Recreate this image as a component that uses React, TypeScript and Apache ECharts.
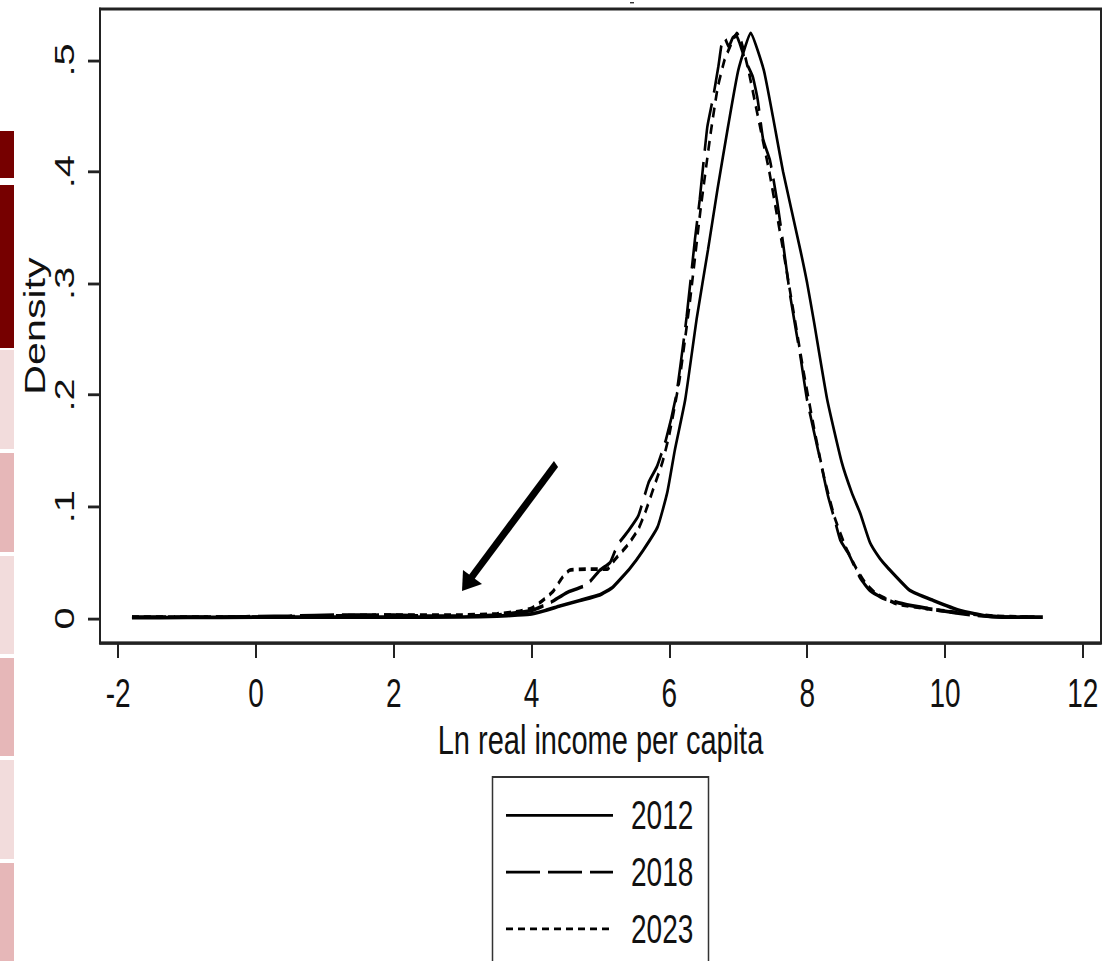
import React, { useEffect, useRef } from "react";
import * as echarts from "echarts";

// The reference picture is stretched vertically; the chart is drawn at its natural size and scaled.
const STRETCH = 1.42;
const W = 1108;
const H = Math.round(961 / STRETCH);

const years = ["2012", "2018", "2023"];

const x2012 = [-1.8, -1, 0, 1, 2, 3, 3.5, 3.8, 4.0, 4.2, 4.41, 4.7, 4.99, 5.18, 5.43, 5.62, 5.83, 5.97, 6.08, 6.23, 6.4, 6.56, 6.7, 6.85, 7.0, 7.18, 7.37, 7.5, 7.65, 7.9, 8.0, 8.1, 8.29, 8.5, 8.65, 8.77, 8.91, 9.05, 9.16, 9.49, 9.83, 10.22, 10.61, 11.0, 11.42];
const y2012 = [0.0005, 0.0008, 0.001, 0.001, 0.001, 0.0012, 0.002, 0.003, 0.004, 0.007, 0.011, 0.016, 0.021, 0.028, 0.045, 0.061, 0.082, 0.113, 0.151, 0.196, 0.27, 0.33, 0.385, 0.44, 0.491, 0.524, 0.491, 0.45, 0.4, 0.33, 0.3, 0.265, 0.196, 0.14, 0.112, 0.094, 0.068, 0.054, 0.046, 0.025, 0.016, 0.007, 0.002, 0.001, 0.001];

const x2018 = [-1.8, -0.8, 0.5, 1.2, 2, 2.5, 3, 3.5, 4.0, 4.27, 4.51, 4.8, 4.99, 5.14, 5.25, 5.4, 5.55, 5.7, 5.82, 5.95, 6.1, 6.25, 6.37, 6.44, 6.55, 6.63, 6.71, 6.76, 6.8, 6.86, 6.92, 6.97, 7.02, 7.1, 7.21, 7.28, 7.36, 7.46, 7.56, 7.63, 7.75, 7.9, 8.0, 8.16, 8.3, 8.4, 8.48, 8.6, 8.77, 8.91, 9.1, 9.45, 9.93, 10.4, 10.9, 11.3];
const y2018 = [0.001, 0.001, 0.002, 0.003, 0.003, 0.002, 0.002, 0.003, 0.007, 0.014, 0.023, 0.03, 0.043, 0.05, 0.066, 0.078, 0.092, 0.122, 0.136, 0.16, 0.2, 0.27, 0.339, 0.375, 0.44, 0.465, 0.494, 0.515, 0.52, 0.512, 0.52, 0.522, 0.515, 0.5, 0.485, 0.465, 0.429, 0.41, 0.375, 0.345, 0.29, 0.235, 0.195, 0.15, 0.11, 0.088, 0.07, 0.058, 0.036, 0.025, 0.018, 0.012, 0.007, 0.003, 0.001, 0.001];

const x2023 = [-1.8, -1, 0, 1, 2, 3, 3.5, 3.8, 4.0, 4.12, 4.31, 4.44, 4.55, 4.8, 5.1, 5.2, 5.4, 5.55, 5.65, 5.8, 5.9, 6.0, 6.15, 6.3, 6.45, 6.6, 6.7, 6.8, 6.88, 6.98, 7.05, 7.15, 7.25, 7.35, 7.45, 7.55, 7.65, 7.8, 7.95, 8.1, 8.25, 8.4, 8.55, 8.7, 8.85, 9.0, 9.3, 9.7, 10.2, 10.7, 11.2];
const y2023 = [0.001, 0.001, 0.001, 0.002, 0.003, 0.003, 0.004, 0.006, 0.009, 0.014, 0.024, 0.036, 0.043, 0.044, 0.044, 0.052, 0.066, 0.08, 0.095, 0.122, 0.14, 0.165, 0.215, 0.285, 0.365, 0.435, 0.475, 0.5, 0.512, 0.524, 0.515, 0.49, 0.46, 0.43, 0.4, 0.365, 0.33, 0.275, 0.22, 0.17, 0.125, 0.09, 0.065, 0.046, 0.031, 0.022, 0.013, 0.009, 0.005, 0.002, 0.001];

const xTicks = [-2, 0, 2, 4, 6, 8, 10, 12];
const yTicks = [0, 0.1, 0.2, 0.3, 0.4, 0.5];
const xName = "Ln real income per capita";
const yName = "Density";

// left strip of slide colours (reference pixels)
const stripTops = [131, 185, 350, 453, 556, 658, 760, 863];
const stripBottoms = [178, 348, 449, 552, 654, 756, 859, 961];
const stripColors = ["#760000", "#760000", "#f2dcdc", "#e6b7b8", "#f2dcdc", "#e6b7b8", "#f2dcdc", "#e6b7b8"];

const FONT = "'Liberation Sans', Arial, sans-serif";

const pairs = (xs: number[], ys: number[]) => xs.map((x, i) => [x, ys[i]]);
const sy = (y: number) => y / STRETCH;

export default function App() {
  const ref = useRef<HTMLDivElement>(null);
  useEffect(() => {
    if (!ref.current) return;
    const chart = echarts.init(ref.current, undefined, { renderer: "svg" });
    const arrowHead = [
      [462, sy(591)],
      [463, sy(570)],
      [482, sy(584)],
    ];
    const graphics: any[] = stripTops.map((t, i) => ({
      type: "rect",
      shape: { x: 0, y: sy(t), width: 14, height: sy(stripBottoms[i]) - sy(t) },
      style: { fill: stripColors[i] },
      silent: true,
    }));
    graphics.push({
      type: "line",
      shape: { x1: 556, y1: sy(464), x2: 471, y2: sy(578) },
      style: { stroke: "#000", lineWidth: 6 },
    });
    graphics.push({ type: "polygon", shape: { points: arrowHead }, style: { fill: "#000" } });
    graphics.push({ type: "rect", shape: { x: 630, y: sy(2), width: 4, height: 1 }, style: { fill: "#333" } });
    // legend frame (runs off the bottom of the picture)
    graphics.push({
      type: "rect",
      z: -1,
      shape: { x: 492.5, y: sy(777), width: 216, height: 200 },
      style: { fill: "#fff", stroke: "#333", lineWidth: 1.5 },
    });

    chart.setOption({
      animation: false,
      backgroundColor: "#fff",
      textStyle: { fontFamily: FONT },
      grid: {
        left: 100,
        right: W - 1101,
        top: sy(9),
        bottom: H - sy(643),
        show: true,
        borderColor: "#222",
        borderWidth: 2,
        containLabel: false,
      },
      xAxis: {
        type: "value",
        min: -2.264,
        max: 12.264,
        name: xName,
        nameLocation: "middle",
        nameGap: 50,
        nameTextStyle: { fontSize: 29, color: "#111", fontFamily: FONT },
        axisLine: { show: true, onZero: false, lineStyle: { color: "#222", width: 2 } },
        axisTick: { show: true, length: 10.5, customValues: xTicks, lineStyle: { color: "#222", width: 2 } },
        axisLabel: { customValues: xTicks, fontSize: 28, color: "#111", margin: 21, fontFamily: FONT },
        splitLine: { show: false },
      },
      yAxis: {
        type: "value",
        min: -0.0221,
        max: 0.5457,
        name: yName,
        nameLocation: "middle",
        nameGap: 50,
        nameMoveOverlap: false,
        nameTextStyle: { fontSize: 29, color: "#111", fontFamily: FONT },
        axisLine: { show: true, onZero: false, lineStyle: { color: "#222", width: 2 } },
        axisTick: { show: true, length: 12, customValues: yTicks, lineStyle: { color: "#222", width: 2 } },
        axisLabel: {
          customValues: yTicks,
          rotate: 90,
          fontSize: 28,
          color: "#111",
          margin: 22,
          fontFamily: FONT,
          formatter: (v: number) => (v === 0 ? "0" : String(Math.round(v * 10) / 10).replace(/^0\./, ".")),
        },
        splitLine: { show: false },
      },
      legend: {
        orient: "vertical",
        left: 492,
        top: sy(777),
        height: 300,
        padding: [13, 17, 0, 13],
        itemWidth: 107,
        itemHeight: 12,
        itemGap: 12,
        data: years,
        itemStyle: { opacity: 0 },
        textStyle: { fontSize: 28, color: "#111", fontFamily: FONT, padding: [0, 0, 0, 13] },
      },
      graphic: graphics,
      series: [
        {
          name: years[0],
          type: "line",
          data: pairs(x2012, y2012),
          symbol: "none",
          smooth: 0.15,
          lineStyle: { color: "#000", width: 2.6, type: "solid" },
          itemStyle: { color: "#000" },
        },
        {
          name: years[1],
          type: "line",
          data: pairs(x2018, y2018),
          symbol: "none",
          smooth: 0.15,
          lineStyle: { color: "#000", width: 2.6, type: [34, 8] },
          itemStyle: { color: "#000" },
        },
        {
          name: years[2],
          type: "line",
          data: pairs(x2023, y2023),
          symbol: "none",
          smooth: 0.15,
          lineStyle: { color: "#000", width: 2.6, type: [7, 5] },
          itemStyle: { color: "#000" },
        },
      ],
    });
    return () => chart.dispose();
  }, []);
  return (
    <div
      style={{
        position: "absolute",
        left: 0,
        top: 0,
        width: W,
        height: 961,
        overflow: "hidden",
        background: "#fff",
      }}
    >
      <div
        ref={ref}
        style={{
          width: W,
          height: H,
          transform: `scaleY(${STRETCH})`,
          transformOrigin: "top left",
        }}
      />
    </div>
  );
}
